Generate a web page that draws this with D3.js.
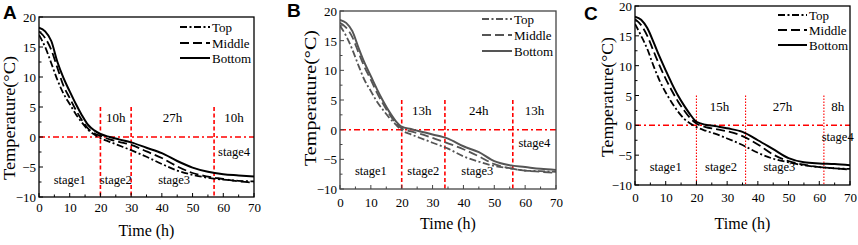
<!DOCTYPE html>
<html><head><meta charset="utf-8">
<script src="https://cdn.jsdelivr.net/npm/d3@7"></script>
<style>body{margin:0;background:#fff}svg{display:block}</style>
</head><body>
<svg id="c" width="858" height="245"></svg>
<script>
const times = [0,2,4,6,8,10,12,14,16,18,20,23,26,30,35,40,45,50,55,60,65,70];
const seriesNames = ["Top","Middle","Bottom"];

const topA    = [17.0,15.0,12.3,9.5,7.2,5.5,3.8,2.4,1.2,0.4,-0.2,-0.8,-1.4,-2.2,-3.3,-4.5,-5.6,-6.3,-6.8,-7.1,-7.3,-7.4];
const middleA = [17.6,16.5,14.5,11.5,8.5,6.5,4.5,2.8,1.4,0.6,0.2,-0.4,-0.8,-1.3,-2.4,-3.5,-4.9,-6.0,-6.6,-7.0,-7.4,-7.6];
const bottomA = [18.2,17.6,16.0,12.5,9.8,7.6,5.5,3.6,2.0,1.1,0.5,0.0,-0.4,-0.9,-1.8,-2.7,-4.0,-5.1,-5.8,-6.2,-6.4,-6.6];

const topB    = [17.5,15.8,13.5,10.8,8.3,6.5,4.7,3.3,2.0,0.9,-0.1,-0.8,-1.4,-2.2,-3.2,-4.5,-5.4,-6.1,-6.5,-6.9,-7.0,-7.1];
const middleB = [18.0,17.2,15.6,13.0,10.5,8.4,6.2,4.3,2.6,1.2,0.2,-0.3,-0.7,-1.4,-2.3,-3.3,-4.5,-5.8,-6.5,-6.9,-7.1,-7.3];
const bottomB = [18.5,18.0,16.6,13.8,11.2,9.0,6.8,4.8,3.0,1.5,0.5,0.1,-0.3,-0.8,-1.5,-2.8,-3.8,-5.3,-6.0,-6.3,-6.6,-6.8];

const topC    = [17.0,15.0,12.8,10.0,7.5,5.5,3.8,2.3,1.1,0.3,-0.3,-0.9,-1.4,-2.2,-3.3,-4.6,-5.6,-6.2,-6.7,-7.0,-7.2,-7.3];
const middleC = [17.8,16.8,15.0,12.5,10.0,7.8,5.8,4.0,2.5,1.2,0.3,-0.3,-0.6,-1.0,-1.8,-3.2,-4.9,-6.0,-6.6,-7.0,-7.2,-7.4];
const bottomC = [18.2,17.7,16.3,14.0,11.5,9.2,7.0,5.0,3.3,1.8,0.6,0.1,-0.1,-0.5,-1.1,-2.5,-4.0,-5.5,-6.2,-6.4,-6.5,-6.7];

const stageBoundsA = [20,30,57];
const stageBoundsB = [20,34,56];
const stageBoundsC = [20,36,61.5];
const durationLabelsA = ["10h","27h","10h"];
const durationLabelsB = ["13h","24h","13h"];
const durationLabelsC = ["15h","27h","8h"];
const stageLabels = ["stage1","stage2","stage3","stage4"];

const xTicks = [0,10,20,30,40,50,60,70];
const yTicks = [-10,-5,0,5,10,15,20];
const panelLetters = ["A","B","C"];

const panels = [
  {letter:"A", series:[topA,middleA,bottomA], bounds:stageBoundsA, dur:durationLabelsA,
   box:{l:39,r:254,t:17,b:197}, lineColor:"#000", frame:"#000", vdash:"4,2.5", vw:1.6,
   ylab:{x:15,y:118,len:124}, xtickY:212, xlabY:236, letterPos:[3,19],
   leg:{x1:180,x2:210,tx:212,ys:[27,43,58]},
   durPos:[[25,2.5],[43.5,2.5],[63.5,2.5]], stagePos:[[10,-7.8],[25,-7.8],[44,-7.8],[63.5,-3.2]]},
  {letter:"B", series:[topB,middleB,bottomB], bounds:stageBoundsB, dur:durationLabelsB,
   box:{l:340,r:556,t:11,b:189}, lineColor:"#555", frame:"#444", vdash:"4,2.5", vw:1.6,
   ylab:{x:316,y:98,len:136}, xtickY:207, xlabY:229, letterPos:[287,17],
   leg:{x1:482,x2:512,tx:514,ys:[19,35,51]},
   durPos:[[26.5,2.5],[45,2.5],[63,2.5]], stagePos:[[10,-7.6],[27,-7.6],[44.5,-7.6],[63,-3.0]]},
  {letter:"C", series:[topC,middleC,bottomC], bounds:stageBoundsC, dur:durationLabelsC,
   box:{l:635,r:850,t:6,b:185}, lineColor:"#000", frame:"#000", vdash:"1.5,1.5", vw:1.1,
   ylab:{x:613,y:97,len:120}, xtickY:202, xlabY:229, letterPos:[584,20],
   leg:{x1:778,x2:807,tx:809,ys:[15,30,45]},
   durPos:[[27.5,2.4],[48,2.4],[66,2.4]], stagePos:[[10,-7.6],[28,-7.6],[47,-7.6],[66,-2.6]]}
];

const dashes = ["7,2.5,2,2.5","9,4",null];
const svg = d3.select("#c");
const serif = "'Liberation Serif','Times New Roman',serif";

panels.forEach(p => {
  const x = d3.scaleLinear().domain([0,70]).range([p.box.l,p.box.r]);
  const y = d3.scaleLinear().domain([-10,20]).range([p.box.b,p.box.t]);
  const g = svg.append("g");

  const cid = "clip"+p.letter;
  svg.append("clipPath").attr("id",cid).append("rect")
    .attr("x",p.box.l).attr("y",p.box.t).attr("width",p.box.r-p.box.l).attr("height",p.box.b-p.box.t);

  // red reference lines
  g.append("line").attr("x1",x(0)).attr("x2",x(70)).attr("y1",y(0)).attr("y2",y(0))
    .attr("stroke","#ff0000").attr("stroke-width",1.5).attr("stroke-dasharray","6,3,2,3");
  p.bounds.forEach(b => {
    g.append("line").attr("x1",x(b)).attr("x2",x(b)).attr("y1",y(5)).attr("y2",y(-10))
      .attr("stroke","#ff0000").attr("stroke-width",p.vw).attr("stroke-dasharray",p.vdash);
  });

  // series lines
  const line = d3.line().x((d,i)=>x(times[i])).y(d=>y(d)).curve(d3.curveMonotoneX);
  p.series.forEach((s,i) => {
    g.append("path").datum(s).attr("d",line).attr("fill","none")
      .attr("clip-path",`url(#${cid})`)
      .attr("stroke",p.lineColor).attr("stroke-width",i===2?2:1.8)
      .attr("stroke-dasharray",dashes[i]);
  });

  // axes
  const xAxis = d3.axisBottom(x).tickValues(xTicks).tickSize(0).tickPadding(0).tickFormat(d3.format("d"));
  const ax = g.append("g").attr("transform",`translate(0,${p.box.b})`).call(xAxis);
  ax.select(".domain").remove();
  ax.selectAll("text").attr("y",p.xtickY - p.box.b).attr("dy",0)
    .attr("font-family",serif).attr("font-size",13).attr("fill","#000");
  const yAxis = d3.axisLeft(y).tickValues(yTicks).tickSize(0).tickPadding(3).tickFormat(d3.format("d"));
  const ay = g.append("g").attr("transform",`translate(${p.box.l},0)`).call(yAxis);
  ay.select(".domain").remove();
  ay.selectAll("text").attr("font-family",serif).attr("font-size",13).attr("fill","#000").attr("dy","0.35em");

  // inward ticks: major + minor
  d3.range(0,71,5).forEach(v => {
    const len = v%10===0?4:2.5;
    g.append("line").attr("x1",x(v)).attr("x2",x(v)).attr("y1",p.box.b).attr("y2",p.box.b-len)
      .attr("stroke",p.frame).attr("stroke-width",1);
  });
  d3.range(-10,20.1,2.5).forEach(v => {
    const len = v%5===0?4:2.5;
    g.append("line").attr("x1",p.box.l).attr("x2",p.box.l+len).attr("y1",y(v)).attr("y2",y(v))
      .attr("stroke",p.frame).attr("stroke-width",1);
  });

  // frame
  g.append("rect").attr("x",p.box.l).attr("y",p.box.t).attr("width",p.box.r-p.box.l).attr("height",p.box.b-p.box.t)
    .attr("fill","none").attr("stroke",p.frame).attr("stroke-width",1.3);

  // labels inside
  p.dur.forEach((t,i)=>{
    g.append("text").attr("x",x(p.durPos[i][0])).attr("y",y(p.durPos[i][1])).attr("text-anchor","middle")
      .attr("font-family",serif).attr("font-size",13).text(t);
  });
  stageLabels.forEach((t,i)=>{
    g.append("text").attr("x",x(p.stagePos[i][0])).attr("y",y(p.stagePos[i][1])).attr("text-anchor","middle")
      .attr("font-family",serif).attr("font-size",12.5).text(t);
  });

  // legend
  seriesNames.forEach((n,i)=>{
    const ly = p.leg.ys[i];
    g.append("line").attr("x1",p.leg.x1).attr("x2",p.leg.x2).attr("y1",ly).attr("y2",ly)
      .attr("stroke",p.lineColor).attr("stroke-width",i===2?2:1.8).attr("stroke-dasharray",dashes[i]);
    g.append("text").attr("x",p.leg.tx).attr("y",ly).attr("dy","0.35em")
      .attr("font-family",serif).attr("font-size",13).text(n);
  });

  // axis titles
  g.append("text").attr("x",(p.box.l+p.box.r)/2).attr("y",p.xlabY).attr("text-anchor","middle")
    .attr("font-family",serif).attr("font-size",16).text("Time (h)");
  g.append("text").attr("transform",`translate(${p.ylab.x},${p.ylab.y}) rotate(-90)`)
    .attr("text-anchor","middle").attr("font-family",serif).attr("font-size",16)
    .attr("textLength",p.ylab.len).attr("lengthAdjust","spacingAndGlyphs").text("Temperature(°C)");

  // panel letter
  svg.append("text").attr("x",p.letterPos[0]).attr("y",p.letterPos[1])
    .attr("font-family","'Liberation Sans',Arial,sans-serif").attr("font-weight","bold").attr("font-size",19).text(p.letter);
});
</script>
</body></html>
